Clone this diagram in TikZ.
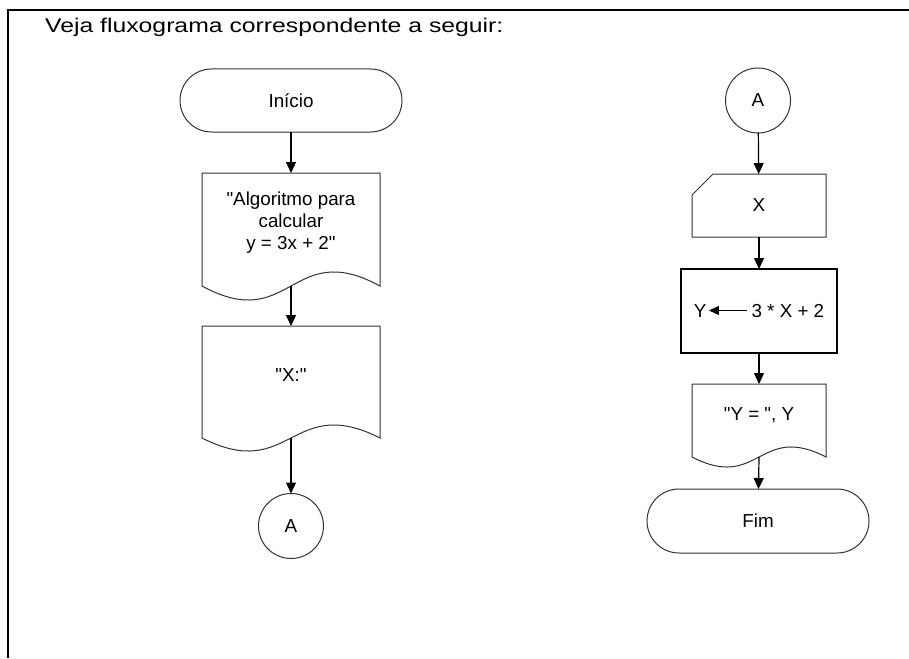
\documentclass[tikz,border=0pt]{standalone}
\usepackage{fontspec}
\setmainfont{Liberation Sans}
\newfontfamily\headfont{Liberation Sans}[FakeStretch=1.25]
\usetikzlibrary{arrows.meta}

\newcommand\q{\textquotedbl}

\tikzset{
  box/.style={font=\fontsize{18.8}{22}\selectfont, align=center, inner sep=0pt, outer sep=0pt},
  terminal/.style={box, draw=black!80, line width=1pt, rounded corners=31.5pt,
    minimum width=222pt, minimum height=63pt},
  connector/.style={box, draw=black!80, line width=1pt, circle, minimum size=65pt},
  process/.style={box, draw, line width=1.4pt, minimum width=156pt, minimum height=84pt},
  document/.style={box, minimum width=178pt, minimum height=99pt},
  manualin/.style={box, minimum width=134pt, minimum height=63pt},
  outline/.style={draw=black!80, line width=1pt},
  flow/.style={line width=1.2pt, arrows=->, >={Triangle[length=11pt,width=10pt]}},
}

% document symbol: straight top and sides, wavy bottom (#2 = wave height)
\newcommand\docborder[2]{%
  \draw[outline] (#1.north west) -- (#1.north east) -- ([yshift=-#2pt]#1.south east)
    .. controls ([yshift=2.47*#2pt]#1.south) and ([yshift=-4.47*#2pt]#1.south)
    .. ([yshift=-#2pt]#1.south west) -- cycle;
  \coordinate (#1-out) at ([yshift=-#2pt]#1.south);
}

\begin{document}
\begin{tikzpicture}[x=1pt, y=-1pt]
  \useasboundingbox (0,0) rectangle (909,658);
  \draw[line width=2pt] (8,658) -- (8,10) -- (909,10);

  \node[anchor=base west, inner sep=0pt, font=\headfont\fontsize{19.8}{24}\selectfont]
    (title) at (45,33) {Veja fluxograma correspondente a seguir:};

  % left column
  \node[terminal] (start) at (291,100.5) {Início};
  \node[document] (msg1) at (291,222.5) {\q Algoritmo para\\calcular\\y = 3x + 2\q};
  \docborder{msg1}{14}
  \node[document] (msg2) at (291,375.5) {\q X:\q};
  \docborder{msg2}{13}
  \node[connector] (conA1) at (291,526) {A};

  % right column
  \node[connector] (conA2) at (758,100.5) {A};
  \node[manualin] (readx) at (759,205.5) {X};
  \draw[outline] ([yshift=-21pt]readx.north west) -- ([xshift=21pt]readx.north west)
    -- (readx.north east) -- (readx.south east) -- (readx.south west) -- cycle;
  \node[process] (calc) at (759,311) {Y\hspace{2pt}\tikz[baseline=-7pt]\draw[line width=1.2pt,
    arrows=<-, >={Triangle[length=10pt,width=9pt]}] (0pt,0pt) -- (38pt,0pt);\hspace{4pt}3 * X + 2};
  \node[manualin] (msg3) at (759,415.5) {\q Y = \q, Y};
  \docborder{msg3}{10}
  \node[terminal, minimum height=64pt, rounded corners=32pt] (stop) at (758,521) {Fim};

  \draw[flow] (start) -- (msg1);
  \draw[flow] (msg1-out) -- (msg2);
  \draw[flow] (msg2-out) -- (conA1);
  \draw[flow] (conA2) -- (readx);
  \draw[flow] (readx) -- (calc);
  \draw[flow] (calc) -- (msg3);
  \draw[flow] (msg3-out) -- (stop);
\end{tikzpicture}
\end{document}
